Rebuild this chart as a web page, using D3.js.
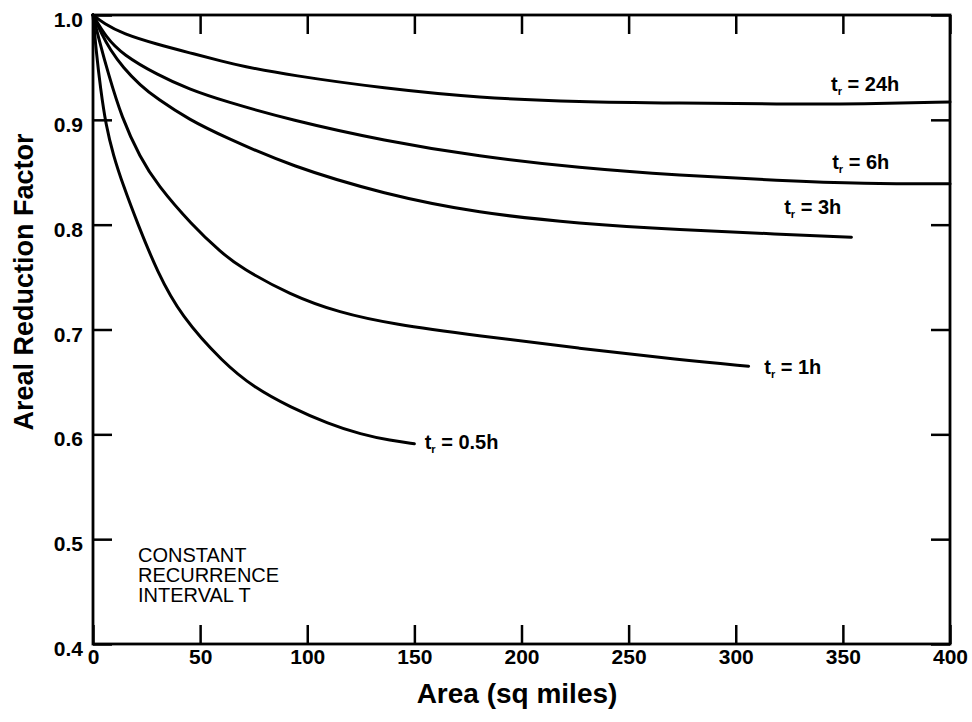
<!DOCTYPE html>
<html>
<head>
<meta charset="utf-8">
<script src="https://cdn.jsdelivr.net/npm/d3@7"></script>
<style>
  body { margin: 0; background: #fff; }
  svg { display: block; font-family: "Liberation Sans", Arial, sans-serif; }
</style>
</head>
<body>
<figure id="arfchart" style="margin:0"></figure>
<script>
// duration labels, top curve first
const durations = ['24h', '6h', '3h', '1h', '0.5h'];

// area (sq miles)
const area24 = [0, 5, 14, 30, 45, 61, 69, 92, 136, 180, 227, 274, 320, 360, 400];
const arf24  = [1.0, 0.992, 0.982, 0.972, 0.964, 0.9555, 0.9515, 0.9425, 0.930, 0.921, 0.917, 0.916, 0.915, 0.915, 0.917];

const area6 = [0, 6, 14, 30, 45, 61, 92, 136, 180, 227, 274, 320, 360, 400];
const arf6  = [1.0, 0.979, 0.962, 0.943, 0.929, 0.918, 0.900, 0.880, 0.865, 0.854, 0.847, 0.842, 0.839, 0.839];

const area3 = [0, 4, 8, 14, 22, 30, 45, 61, 92, 136, 180, 227, 274, 320, 354];
const arf3  = [1.0, 0.982, 0.967, 0.950, 0.933, 0.920, 0.900, 0.884, 0.856, 0.829, 0.811, 0.801, 0.795, 0.791, 0.788];

const area1 = [0, 3, 7, 13.4, 22, 30, 46, 60, 69, 92, 115, 140, 180, 227, 274, 306];
const arf1  = [1.0, 0.975, 0.945, 0.902, 0.864, 0.838, 0.800, 0.773, 0.759, 0.733, 0.716, 0.705, 0.694, 0.682, 0.671, 0.665];

const area05 = [0, 1.5, 3.5, 6, 9.5, 14, 21, 30, 41, 61, 75, 92, 110, 125, 139, 150];
const arf05  = [1.0, 0.965, 0.930, 0.895, 0.866, 0.838, 0.800, 0.755, 0.713, 0.668, 0.645, 0.626, 0.610, 0.600, 0.594, 0.591];

// where each "t_r = ..." label starts, in data units
const labelArea = [344.5, 345, 322.6, 313.3, 154.8];
const labelArf  = [0.9275, 0.853, 0.810, 0.6574, 0.586];

const xTicks = [0, 50, 100, 150, 200, 250, 300, 350, 400];
const yTicks = [0.4, 0.5, 0.6, 0.7, 0.8, 0.9, 1.0];

const noteLines = ['CONSTANT', 'RECURRENCE', 'INTERVAL T'];

const series = [
  {area: area24, arf: arf24},
  {area: area6, arf: arf6},
  {area: area3, arf: arf3},
  {area: area1, arf: arf1},
  {area: area05, arf: arf05}
];

const width = 972, height = 722;
const margin = {top: 15, right: 22, bottom: 78, left: 93};
const fontStack = '"Liberation Sans", Arial, sans-serif';

const svg = d3.select('figure#arfchart').append('svg')
  .attr('width', width)
  .attr('height', height);

const x = d3.scaleLinear().domain([0, 400]).range([margin.left, width - margin.right]);
const y = d3.scaleLinear().domain([0.4, 1.0]).range([height - margin.bottom, margin.top]);

const tickLen = 19;

// axes, ticks pointing into the plot on all four sides
const gx = svg.append('g')
  .attr('transform', `translate(0, ${y(0.4)})`)
  .call(d3.axisBottom(x).tickValues(xTicks).tickSize(-tickLen).tickPadding(5).tickFormat(d3.format('d')));

svg.append('g')
  .attr('transform', `translate(0, ${y(1.0)})`)
  .call(d3.axisTop(x).tickValues(xTicks).tickSize(-tickLen).tickFormat(''));

const gy = svg.append('g')
  .attr('transform', `translate(${x(0)}, 0)`)
  .call(d3.axisLeft(y).tickValues(yTicks).tickSize(-tickLen).tickPadding(10).tickFormat(d3.format('.1f')));

svg.append('g')
  .attr('transform', `translate(${x(400)}, 0)`)
  .call(d3.axisRight(y).tickValues(yTicks).tickSize(-tickLen).tickFormat(''));

svg.selectAll('.domain').remove();
svg.selectAll('.tick line').attr('stroke', '#000').attr('stroke-width', 2.5);

gx.selectAll('text')
  .attr('font-size', 21).attr('font-weight', 'bold').attr('fill', '#000')
  .attr('font-family', fontStack);
gy.selectAll('text')
  .attr('font-size', 21).attr('font-weight', 'bold').attr('fill', '#000')
  .attr('dy', '0.55em')
  .attr('font-family', fontStack);

// frame
svg.append('rect')
  .attr('x', x(0)).attr('y', y(1.0))
  .attr('width', x(400) - x(0)).attr('height', y(0.4) - y(1.0))
  .attr('fill', 'none').attr('stroke', '#000').attr('stroke-width', 2.8);

// curves
const line = d3.line()
  .x(d => x(d[0]))
  .y(d => y(d[1]))
  .curve(d3.curveBasis);

series.forEach(s => {
  svg.append('path')
    .datum(s.area.map((a, i) => [a, s.arf[i]]))
    .attr('fill', 'none')
    .attr('stroke', '#000')
    .attr('stroke-width', 3)
    .attr('stroke-linecap', 'round')
    .attr('d', line);
});

// curve labels: t_r = ...
durations.forEach((dur, i) => {
  const t = svg.append('text')
    .attr('x', x(labelArea[i]))
    .attr('y', y(labelArf[i]))
    .attr('font-size', 20)
    .attr('font-weight', 'bold');
  t.append('tspan').text('t');
  t.append('tspan').attr('font-size', 11).attr('dy', 4).text('r');
  t.append('tspan').attr('dy', -4).text(' = ' + dur);
});

// note in lower left
svg.append('text')
  .attr('x', 138)
  .attr('y', 562)
  .attr('font-size', 20)
  .selectAll('tspan')
  .data(noteLines)
  .join('tspan')
  .attr('x', 138)
  .attr('dy', (d, i) => i === 0 ? 0 : 20)
  .text(d => d);

// axis titles
svg.append('text')
  .attr('x', 517)
  .attr('y', 703)
  .attr('text-anchor', 'middle')
  .attr('font-size', 28)
  .attr('font-weight', 'bold')
  .text('Area (sq miles)');

svg.append('text')
  .attr('transform', 'translate(33, 282) rotate(-90)')
  .attr('text-anchor', 'middle')
  .attr('font-size', 27)
  .attr('font-weight', 'bold')
  .text('Areal Reduction Factor');
</script>
</body>
</html>
